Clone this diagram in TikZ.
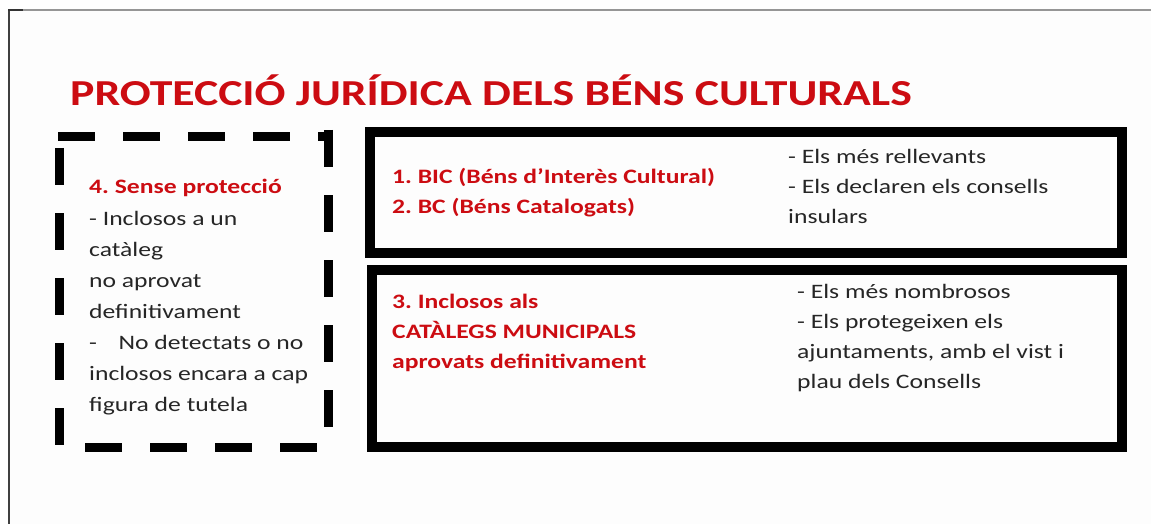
\documentclass[tikz,border=0pt]{standalone}
\usepackage{fontspec}
\setmainfont{Carlito}[FakeStretch=1.25]
\frenchspacing
\definecolor{titlered}{RGB}{204,12,18}
\definecolor{bodygray}{RGB}{38,38,38}
\definecolor{framegray}{RGB}{150,150,150}
\definecolor{bgwhite}{RGB}{253,253,253}
\tikzset{
  solidbox/.style={draw=black, line width=10pt},
  dashside/.style={draw=black, line width=9pt, dash pattern=on 37pt off 28pt},
  redtxt/.style={text=titlered, font=\bfseries\fontsize{20.5}{30}\selectfont, inner sep=0pt, anchor=base west, align=left},
  graytxt/.style={text=bodygray, font=\fontsize{20.5}{30}\selectfont, inner sep=0pt, anchor=base west, align=left},
}
\begin{document}
\begin{tikzpicture}[x=1pt,y=-1pt]
\useasboundingbox (0,0) rectangle (1151,524);
\fill[bgwhite] (9,10) rectangle (1151,524);
% frame lines
\draw[framegray, line width=1.2pt] (9,10) -- (1151,10);
\draw[black!75, line width=1.5pt] (9,10) -- (9,524);
\draw[black!80, line width=1.5pt] (8,10) -- (23,10);
% title
\node[text=titlered, font=\bfseries\fontsize{36.6}{40}\selectfont, inner sep=0pt, anchor=base west] (title) at (70,106) {PROTECCIÓ JURÍDICA DELS BÉNS CULTURALS};
% dashed box
\coordinate (dtl) at (59,137);
\coordinate (dbr) at (328,447);
\draw[dashside] (58,137) -- (332,137);
\draw[dashside] (328,130) -- (328,450);
\draw[dashside] (85,447) -- (320,447);
\draw[dashside] (59,148) -- (59,450);
% solid boxes
\draw[solidbox] (370,132) rectangle (1122,253);
\draw[solidbox] (372,270) rectangle (1122,447);
% texts (base anchor = baseline of last line)
\node[redtxt] (t4) at (89,193) {4. Sense protecció};
\node[graytxt, font=\fontsize{20.5}{31}\selectfont] (t4b) at (89,411) {- Inclosos a un\\catàleg\\no aprovat\\definitivament\\-\hspace{1.05em}No detectats o no\\inclosos encara a cap\\figura de tutela};
\node[redtxt] (t12) at (392,213) {1. BIC (Béns d’Interès Cultural)\\2. BC (Béns Catalogats)};
\node[graytxt] (t12b) at (788,223) {- Els més rellevants\\- Els declaren els consells\\insulars};
\node[redtxt] (t3) at (392,368) {3. Inclosos als\\CATÀLEGS MUNICIPALS\\aprovats definitivament};
\node[graytxt] (t3b) at (797,388) {- Els més nombrosos\\- Els protegeixen els\\ajuntaments, amb el vist i\\plau dels Consells};
\end{tikzpicture}
\end{document}
